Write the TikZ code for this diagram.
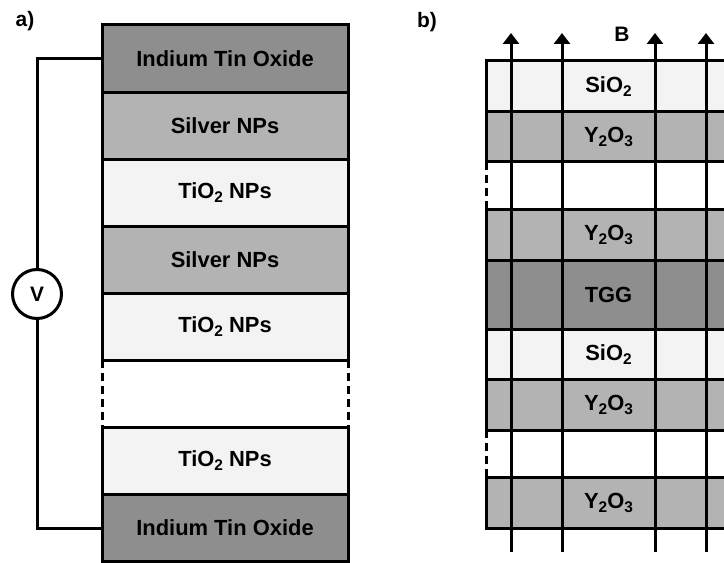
\documentclass[tikz,border=0pt]{standalone}
\usepackage{fontspec}
\setmainfont{Liberation Sans}
\usetikzlibrary{arrows.meta}
\definecolor{oxidegray}{HTML}{8E8E8E}
\definecolor{metalgray}{HTML}{B3B3B3}
\definecolor{filmgray}{HTML}{F3F3F3}
\newcommand{\lowidx}[1]{\raisebox{-4bp}{\fontsize{15.5}{16}\selectfont #1}}
\tikzset{
  layer/.style={draw,line width=3bp,inner sep=0pt,outer sep=0pt,font=\fontsize{22}{26}\selectfont\bfseries},
  stackA/.style={layer,minimum width=246bp,minimum height=67.06bp},
  stackB/.style={layer,minimum width=245bp,minimum height=50.5bp},
  gapA/.style={stackA,draw=none},
  gapB/.style={stackB,draw=none,minimum height=48bp},
  wire/.style={line width=3bp},
  field/.style={line width=3bp,-{Triangle[width=16bp,length=11bp]}},
  cut/.style={line width=3bp,dash pattern=on 8bp off 5bp},
  panel/.style={font=\fontsize{21}{25}\selectfont\bfseries},
}
\begin{document}
\begin{tikzpicture}[x=1bp,y=-1bp,line join=miter]
\clip (0,0) rectangle (724,563);
%% a) stack
\node (ito_top) at (225,58.5) [stackA,fill=oxidegray] {Indium Tin Oxide};
  \node (ag_1) at (225,125.6) [stackA,fill=metalgray] {Silver NPs};
  \node (tio_1) at (225,192.7) [stackA,fill=filmgray] {TiO\lowidx{2} NPs};
  \node (ag_2) at (225,259.7) [stackA,fill=metalgray] {Silver NPs};
  \node (tio_2) at (225,326.8) [stackA,fill=filmgray] {TiO\lowidx{2} NPs};
  \node (gap_a) at (225,393.9) [gapA] {};
  \node (tio_3) at (225,460.9) [stackA,fill=filmgray] {TiO\lowidx{2} NPs};
  \node (ito_bot) at (225,528.0) [stackA,fill=oxidegray] {Indium Tin Oxide};
  \draw [cut] (gap_a.north west) -- (gap_a.south west);
  \draw [cut] (gap_a.north east) -- (gap_a.south east);
  \node (volt) at (37,294) [circle,draw,line width=3bp,minimum size=49bp,inner sep=0pt,panel] {V};
  \draw [wire] (ito_top.west) -| (volt.north);
  \draw [wire] (ito_bot.west) -| (volt.south);
%% b) stack
\node (sio_1) at (608.5,86.25) [stackB,fill=filmgray] {SiO\lowidx{2}};
  \node (yo_1) at (608.5,136.75) [stackB,fill=metalgray] {Y\lowidx{2}O\lowidx{3}};
  \node (gap_b1) at (608.5,186) [gapB] {};
  \node (yo_2) at (608.5,235.25) [stackB,fill=metalgray] {Y\lowidx{2}O\lowidx{3}};
  \node (tgg) at (608.5,295) [stackB,minimum height=69bp,fill=oxidegray] {TGG};
  \node (sio_2) at (608.5,354.75) [stackB,fill=filmgray] {SiO\lowidx{2}};
  \node (yo_3) at (608.5,405) [stackB,fill=metalgray] {Y\lowidx{2}O\lowidx{3}};
  \node (gap_b2) at (608.5,453.75) [gapB,minimum height=47.5bp] {};
  \node (yo_4) at (608.5,502.75) [stackB,fill=metalgray] {Y\lowidx{2}O\lowidx{3}};
  \draw [cut] (gap_b1.north west) -- (gap_b1.south west);
  \draw [cut] (gap_b1.north east) -- (gap_b1.south east);
  \draw [cut] (gap_b2.north west) -- (gap_b2.south west);
  \draw [cut] (gap_b2.north east) -- (gap_b2.south east);
%
\foreach \x [count=\i] in {511,562,655,706} {
  \coordinate (foot_\i) at (\x,552);
  \coordinate (tip_\i) at (\x,33);
  \draw [field] (foot_\i) -- (tip_\i);
}
\node (bfield) at (622,34) [panel] {B};
\node (label_a) at (25,21) [panel] {a)};
\node (label_b) at (427,22) [panel] {b)};
%
\end{tikzpicture}
\end{document}
